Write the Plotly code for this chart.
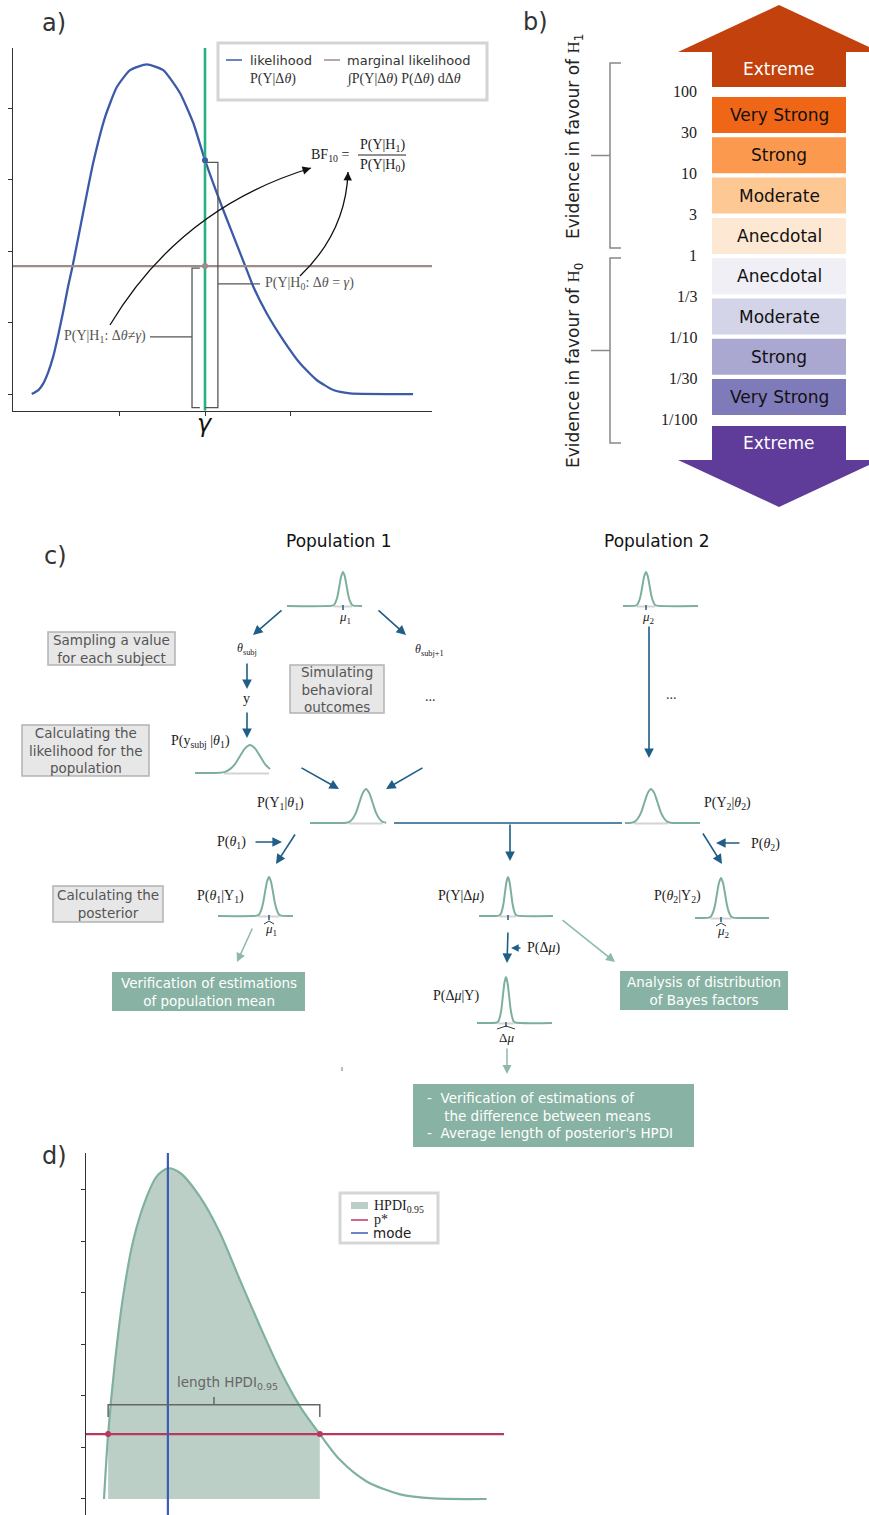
import plotly.graph_objects as go

W, H = 869, 1515
SANS = "DejaVu Sans"
SERIF = "Liberation Serif"

# ======================= DATA =======================
# ---- panel a : likelihood of the effect (x in units, gamma = 0) ----
A_X = [-2.015, -1.938, -1.880, -1.822, -1.764, -1.706, -1.648, -1.593, -1.538, -1.415,
       -1.299, -1.163, -1.027, -0.872, -0.678, -0.485, -0.291, -0.136, 0.0, 0.213,
       0.465, 0.562, 0.717, 0.910, 1.105, 1.299, 1.492, 1.686, 2.42]
A_Y = [0.0, 0.056, 0.15, 0.31, 0.53, 0.83, 1.16, 1.50, 1.80, 2.55,
       3.24, 3.87, 4.29, 4.53, 4.61, 4.53, 4.21, 3.79, 3.27, 2.57,
       1.80, 1.50, 1.13, 0.755, 0.43, 0.196, 0.056, 0.01, 0.0]
A_GAMMA = 0.0
A_LIK_AT_GAMMA = 3.27
A_MARGINAL = 1.79
A_XTICKS = [-1, 0, 1]
A_XTICKLABEL = "<i>γ</i>"
A_YTICKS = [0, 1, 2, 3, 4]

# ---- panel b : Bayes factor evidence categories ----
B_CATEGORIES = ["Extreme", "Very Strong", "Strong", "Moderate", "Anecdotal",
                "Anecdotal", "Moderate", "Strong", "Very Strong", "Extreme"]
B_COLORS = ["#c2410c", "#ef6617", "#fb9a4f", "#fdc894", "#fde8d4",
            "#efeff5", "#d4d4e8", "#aaa7d1", "#7f7ab9", "#5f3c99"]
B_TEXT_COLORS = ["white", "#111", "#111", "#111", "#111",
                 "#111", "#111", "#111", "#111", "white"]
B_THRESHOLDS = ["100", "30", "10", "3", "1", "1/3", "1/10", "1/30", "1/100"]
B_GROUPS = ["Evidence in favour of <span style='font-family:Liberation Serif'>H</span><sub>1</sub>",
            "Evidence in favour of <span style='font-family:Liberation Serif'>H</span><sub>0</sub>"]

# ---- panel c : normalised bump profile used for the small density icons ----
BUMP_U = [-3, -2.5, -2, -1.5, -1, -0.5, 0, 0.5, 1, 1.5, 2, 2.5, 3]
BUMP_H = [0.01, 0.04, 0.14, 0.32, 0.61, 0.88, 1.0, 0.88, 0.61, 0.32, 0.14, 0.04, 0.01]
C_TITLES = ["Population 1", "Population 2"]
C_GRAY_BOXES = ["Sampling a value<br>for each subject",
                "Simulating<br>behavioral<br>outcomes",
                "Calculating the<br>likelihood for the<br>population",
                "Calculating the<br>posterior"]
C_GREEN_BOXES = ["Verification of estimations<br>of population mean",
                 "Analysis of distribution<br>of Bayes factors",
                 "-  Verification of estimations of<br>    the difference between means<br>-  Average length of posterior's HPDI"]

# ---- panel d : posterior with HPDI ----
D_X = [0.35, 0.43, 0.56, 0.72, 0.92, 1.18, 1.37, 1.59, 1.83, 2.21, 2.60, 2.99,
       3.38, 3.77, 4.16, 4.54, 4.93, 5.45, 6.10, 6.74, 7.78]
D_Y = [0.00, 1.26, 2.64, 3.93, 5.03, 5.87, 6.26, 6.42, 6.33, 5.87, 5.17, 4.25,
       3.35, 2.50, 1.79, 1.26, 0.76, 0.34, 0.09, 0.01, 0.00]
D_PSTAR = 1.26
D_MODE = 1.59
D_HPDI = [0.43, 4.54]
D_YTICKS = [0, 1, 2, 3, 4, 5, 6]

# ======================= STYLE =======================
BLUE = "#3b5aa8"
GREEN_V = "#27b183"
BROWN = "#9c8c8a"
ICON = "#7db09c"
ARROW = "#1f5e86"
SOFT = "#8dbaa8"
TEAL_BOX = "#88b2a3"
RED = "#b8395e"
MODE_BLUE = "#3c5db4"
FILL = "#bccfc7"

fig = go.Figure()
shapes, ann = [], []


def txt(x, y, s, size=13, color="#222", family=SANS, xa="center", ya="middle", angle=0, ref=("x", "y"), align="center"):
    ann.append(dict(x=x, y=y, xref=ref[0], yref=ref[1], text=s, showarrow=False,
                    font=dict(size=size, color=color, family=family),
                    xanchor=xa, yanchor=ya, textangle=angle, align=align))


def seg(x0, y0, x1, y1, color, width=1.5, ref=("x", "y"), layer="above", dash=None):
    shapes.append(dict(type="line", x0=x0, y0=y0, x1=x1, y1=y1, xref=ref[0], yref=ref[1],
                       line=dict(color=color, width=width, dash=dash), layer=layer))


def path(p, color, width=1.5, fill=None, ref=("x", "y"), layer="above"):
    d = dict(type="path", path=p, xref=ref[0], yref=ref[1], layer=layer,
             line=dict(color=color, width=width))
    if fill:
        d["fillcolor"] = fill
    shapes.append(d)


def rect(x0, y0, x1, y1, fill, line=None, lw=0, layer="above", ref=("x", "y")):
    shapes.append(dict(type="rect", x0=x0, y0=y0, x1=x1, y1=y1, xref=ref[0], yref=ref[1],
                       fillcolor=fill, line=dict(color=line or fill, width=lw), layer=layer))


def arrow(x0, y0, x1, y1, color=ARROW, width=1.6, size=1.2, head=2):
    ann.append(dict(x=x1, y=y1, ax=x0, ay=y0, xref="x", yref="y", axref="x", ayref="y",
                    text="", showarrow=True, arrowhead=head, arrowsize=size,
                    arrowwidth=width, arrowcolor=color, standoff=0))


def curved_arrow(p0, c, p1, color="#111", width=1.3):
    path(f"M {p0[0]} {p0[1]} Q {c[0]} {c[1]} {p1[0]} {p1[1]}", color, width)
    dx, dy = p1[0] - c[0], p1[1] - c[1]
    n = (dx * dx + dy * dy) ** 0.5
    arrow(p1[0] - 7 * dx / n, p1[1] - 7 * dy / n, p1[0], p1[1], color=color, width=width, size=1.3)


# ======================= PANEL A =======================
fig.add_trace(go.Scatter(x=A_X, y=A_Y, mode="lines", line=dict(color=BLUE, width=2.3, shape="spline", smoothing=0.5),
                         xaxis="x2", yaxis="y2", hoverinfo="skip", showlegend=False))
A_XRANGE = [-2.233, 2.64]
A_YRANGE = [-0.233, 4.839]
fig.add_trace(go.Scatter(x=A_XRANGE, y=[A_MARGINAL, A_MARGINAL], mode="lines",
                         line=dict(color=BROWN, width=2.2), xaxis="x2", yaxis="y2",
                         hoverinfo="skip", showlegend=False))
fig.add_trace(go.Scatter(x=[A_GAMMA, A_GAMMA], y=A_YRANGE, mode="lines",
                         line=dict(color=GREEN_V, width=2.6), xaxis="x2", yaxis="y2",
                         hoverinfo="skip", showlegend=False))
fig.add_trace(go.Scatter(x=[A_GAMMA, A_GAMMA], y=[A_LIK_AT_GAMMA, A_MARGINAL], mode="markers",
                         marker=dict(color=[BLUE, BROWN], size=6), xaxis="x2", yaxis="y2",
                         hoverinfo="skip", showlegend=False))
ra = ("x2", "y2")
BR_GRAY = "#555"
path(f"M {A_GAMMA} {A_LIK_AT_GAMMA - 0.03} L 0.15 {A_LIK_AT_GAMMA - 0.03} L 0.15 -0.19 L {A_GAMMA} -0.19",
     BR_GRAY, 1.3, ref=ra)
mid_r = (A_LIK_AT_GAMMA - 0.19) / 2
seg(0.15, mid_r, 0.64, mid_r, BR_GRAY, 1.3, ref=ra)
txt(0.67, mid_r, "P(Y|H<sub>0</sub>: Δ<i>θ</i> = <i>γ</i>)", 14, "#555", SERIF, xa="left", ref=ra)
path(f"M -0.06 {A_MARGINAL - 0.03} L -0.151 {A_MARGINAL - 0.03} L -0.151 -0.19 L -0.06 -0.19",
     BR_GRAY, 1.3, ref=ra)
mid_l = (A_MARGINAL - 0.19) / 2
seg(-0.151, mid_l, -0.64, mid_l, BR_GRAY, 1.3, ref=ra)
txt(-0.66, mid_l, "P(Y|H<sub>1</sub>: Δ<i>θ</i>≠<i>γ</i>)", 14, "#555", SERIF, xa="right", ref=ra)
txt(A_GAMMA, 424, A_XTICKLABEL, 24, "#111", ref=("x2", "y"))

rect(218, 43, 487, 100, "white", "#d4d4d4", 3)
seg(226, 60, 242, 60, BLUE, 1.5)
txt(248, 60, "likelihood", 13, "#333", xa="left")
txt(248, 79, "P(Y|Δ<i>θ</i>)", 14, "#333", SERIF, xa="left")
seg(324, 60, 340, 60, BROWN, 1.5)
txt(345, 60, "marginal likelihood", 13, "#333", xa="left")
txt(345, 79, "∫P(Y|Δ<i>θ</i>) P(Δ<i>θ</i>) dΔ<i>θ</i>", 14, "#333", SERIF, xa="left")

txt(351, 155, "BF<sub>10</sub> =", 14, "#222", SERIF, xa="right")
txt(382, 145, "P(Y|H<sub>1</sub>)", 14, "#222", SERIF)
txt(382, 165, "P(Y|H<sub>0</sub>)", 14, "#222", SERIF)
seg(358, 155, 406, 155, "#222", 1)
curved_arrow((110, 325), (180, 208), (311, 168))
curved_arrow((300, 276), (346, 232), (348, 172))
txt(54, 23, "a)", 24, "#333")

# ======================= PANEL B =======================
BX0, BX1, BCX = 712, 846, 779
PITCH, BH = 40.3, 36
path(f"M {BX0} 87 L {BX0} 52 L 678 52 L {BCX} 5 L 880 52 L {BX1} 52 L {BX1} 87 Z", B_COLORS[0], 0, fill=B_COLORS[0])
txt(BCX, 69, B_CATEGORIES[0], 17, B_TEXT_COLORS[0])
for i in range(1, 9):
    y0 = 97 + (i - 1) * PITCH
    rect(BX0, y0, BX1, y0 + BH, B_COLORS[i])
    txt(BCX, y0 + BH / 2, B_CATEGORIES[i], 17, B_TEXT_COLORS[i])
path(f"M {BX0} 426 L {BX0} 460 L 678 460 L {BCX} 507 L 880 460 L {BX1} 460 L {BX1} 426 Z", B_COLORS[9], 0, fill=B_COLORS[9])
txt(BCX, 443, B_CATEGORIES[9], 17, B_TEXT_COLORS[9])
for i, t in enumerate(B_THRESHOLDS):
    txt(699, 91 + i * 41.1, t, 16, "#222", SERIF, xa="right")
for (ya, yb) in [(63, 248), (258, 443)]:
    path(f"M 621 {ya} L 610 {ya} L 610 {yb} L 621 {yb}", "#888", 1.5)
    seg(610, (ya + yb) / 2, 591, (ya + yb) / 2, "#888", 1.5)
txt(574, 137, B_GROUPS[0], 17, "#222", angle=-90)
txt(574, 366, B_GROUPS[1], 17, "#222", angle=-90)
txt(535, 22, "b)", 24, "#333")

# ======================= PANEL C =======================


def icon(cx, base, x0, x1, sig, h, cut=3.0, tick=False):
    xs, ys = [x0], [base]
    for u, v in zip(BUMP_U, BUMP_H):
        if u > cut:
            break
        xs.append(cx + u * sig)
        ys.append(base - h * v)
    if cut >= 3:
        xs.append(x1)
        ys.append(base)
        seg(cx - 2.6 * sig, base + 0.5, cx + 2.6 * sig, base + 0.5, "#d4d4d4", 2, layer="below")
    else:
        seg(cx - 2.6 * sig, base + 0.5, x1, base + 0.5, "#d4d4d4", 2, layer="below")
    fig.add_trace(go.Scatter(x=xs, y=ys, mode="lines", line=dict(color=ICON, width=2, shape="spline", smoothing=0.6),
                             xaxis="x", yaxis="y", hoverinfo="skip", showlegend=False))
    if tick:
        seg(cx, base - 1, cx, base + 4, ARROW, 1.5)


def hat(cx, y, w):
    path(f"M {cx - w} {y + 3} L {cx} {y} L {cx + w} {y + 3}", "#222", 0.9)


txt(55, 556, "c)", 24, "#333")
txt(339, 541, C_TITLES[0], 17, "#111")
txt(657, 541, C_TITLES[1], 17, "#111")

icon(343, 606, 287, 362, 3.5, 34, tick=True)
txt(345, 617, "<i>μ</i><sub>1</sub>", 13, "#222", SERIF)
icon(646, 606, 623, 698, 3.5, 34, tick=True)
txt(648, 617, "<i>μ</i><sub>2</sub>", 13, "#222", SERIF)

arrow(283, 609, 253, 635)
arrow(377, 609, 406, 635)
txt(247, 649, "<i>θ</i><sub>subj</sub>", 12, "#222", SERIF)
txt(429, 650, "<i>θ</i><sub>subj+1</sub>", 12, "#222", SERIF)
arrow(247, 662, 247, 689)
txt(246, 698, "y", 14, "#222", SERIF)
arrow(247, 711, 247, 738)
txt(430, 696, "...", 14, "#333", SERIF)
txt(200, 741, "P(y<sub>subj</sub> |<i>θ</i><sub>1</sub>)", 14, "#222", SERIF)
icon(250, 773, 195, 269, 10, 28, cut=2.0)

arrow(300, 767, 339, 789)
arrow(424, 767, 386, 789)
icon(366, 823, 310, 385, 6.5, 34)
txt(280, 803, "P(Y<sub>1</sub>|<i>θ</i><sub>1</sub>)", 14, "#222", SERIF)

arrow(649, 625, 649, 758)
txt(671, 694, "...", 14, "#333", SERIF)
icon(651, 823, 625, 700, 6.5, 34)
txt(727, 803, "P(Y<sub>2</sub>|<i>θ</i><sub>2</sub>)", 14, "#222", SERIF)

seg(394, 823, 622, 823, ARROW, 1.6)
arrow(510, 823, 510, 861)

arrow(296, 833, 276, 864)
arrow(254, 842, 282, 842)
txt(231, 842, "P(<i>θ</i><sub>1</sub>)", 14, "#222", SERIF)
icon(269, 916, 218, 293, 4, 39, tick=True)
txt(220, 896, "P(<i>θ</i><sub>1</sub>|Y<sub>1</sub>)", 14, "#222", SERIF)
txt(271, 929, "<i>μ</i><sub>1</sub>", 13, "#222", SERIF)
hat(269, 921, 5)

arrow(702, 832, 722, 864)
arrow(741, 843, 716, 843)
txt(765, 844, "P(<i>θ</i><sub>2</sub>)", 14, "#222", SERIF)
icon(721, 918, 695, 769, 4, 40, tick=True)
txt(677, 896, "P(<i>θ</i><sub>2</sub>|Y<sub>2</sub>)", 14, "#222", SERIF)
txt(723, 931, "<i>μ</i><sub>2</sub>", 13, "#222", SERIF)
hat(721, 923, 5)

icon(508, 916, 479, 553, 3, 39, tick=True)
txt(461, 896, "P(Y|Δ<i>μ</i>)", 14, "#222", SERIF)
arrow(508, 931, 507, 963)
arrow(522, 948, 511, 948, width=1.4, size=1.1)
txt(543, 948, "P(Δ<i>μ</i>)", 14, "#222", SERIF)
icon(506, 1023, 477, 552, 3, 46, tick=True)
txt(456, 996, "P(Δ<i>μ</i>|Y)", 14, "#222", SERIF)
txt(506, 1037, "Δ<i>μ</i>", 13, "#222", SERIF)
hat(506, 1026, 9)

arrow(253, 927, 237, 962, color=SOFT, width=1.5)
arrow(561, 919, 615, 962, color=SOFT, width=1.5)
arrow(507, 1047, 507, 1074, color=SOFT, width=1.5)
seg(342, 1067, 342, 1071, "#777", 1)

GB = [(48, 632, 175, 665), (290, 665, 384, 713), (22, 725, 149, 776), (53, 886, 163, 922)]
for (x0, y0, x1, y1), t in zip(GB, C_GRAY_BOXES):
    rect(x0, y0, x1, y1, "#e7e7e7", "#b3b3b3", 1.5)
    txt((x0 + x1) / 2, (y0 + y1) / 2, t, 13.5, "#555")
GRB = [(112, 972, 305, 1011), (620, 971, 788, 1010), (413, 1084, 694, 1147)]
for k, ((x0, y0, x1, y1), t) in enumerate(zip(GRB, C_GREEN_BOXES)):
    rect(x0, y0, x1, y1, TEAL_BOX)
    if k < 2:
        txt((x0 + x1) / 2, (y0 + y1) / 2, t, 13.5, "white")
    else:
        txt(x0 + 12, (y0 + y1) / 2, t, 13.5, "white", xa="left", align="left")

# ======================= PANEL D =======================
rd = ("x3", "y3")
D_XRANGE = [0, 8.117]
D_YRANGE = [-0.311, 6.718]
hx = [x for x in D_X if D_HPDI[0] <= x <= D_HPDI[1]]
hy = [y for x, y in zip(D_X, D_Y) if D_HPDI[0] <= x <= D_HPDI[1]]
fig.add_trace(go.Scatter(x=hx, y=hy, mode="lines", fill="tozeroy", fillcolor=FILL,
                         line=dict(width=0, shape="spline", smoothing=0.8), xaxis="x3", yaxis="y3",
                         hoverinfo="skip", showlegend=False))
fig.add_trace(go.Scatter(x=D_X, y=D_Y, mode="lines", line=dict(color="#80b19f", width=2.2, shape="spline", smoothing=0.8),
                         xaxis="x3", yaxis="y3", hoverinfo="skip", showlegend=False))
fig.add_trace(go.Scatter(x=D_XRANGE, y=[D_PSTAR, D_PSTAR], mode="lines", line=dict(color=RED, width=2.2),
                         xaxis="x3", yaxis="y3", hoverinfo="skip", showlegend=False))
fig.add_trace(go.Scatter(x=[D_MODE, D_MODE], y=D_YRANGE, mode="lines", line=dict(color=MODE_BLUE, width=2.2),
                         xaxis="x3", yaxis="y3", hoverinfo="skip", showlegend=False))
fig.add_trace(go.Scatter(x=D_HPDI, y=[D_PSTAR, D_PSTAR], mode="markers", marker=dict(color=RED, size=6),
                         xaxis="x3", yaxis="y3", hoverinfo="skip", showlegend=False))
bmid = (D_HPDI[0] + D_HPDI[1]) / 2
path(f"M {D_HPDI[0]} 1.59 L {D_HPDI[0]} 1.83 L {D_HPDI[1]} 1.83 L {D_HPDI[1]} 1.59", "#666", 1.5, ref=rd)
seg(bmid, 1.83, bmid, 1.98, "#666", 1.5, ref=rd)
txt(bmid + 0.27, 2.26, "length HPDI<sub>0.95</sub>", 13.5, "#666", ref=rd)

rect(340, 1193, 438, 1243, "white", "#d6d6d6", 3)
rect(351, 1202, 368, 1209, FILL)
seg(351, 1220, 368, 1220, RED, 1.5)
seg(351, 1233, 368, 1233, MODE_BLUE, 1.5)
txt(372, 1206, "HPDI<sub>0.95</sub>", 14, "#222", SERIF, xa="left")
txt(372, 1219, "p*", 14, "#222", SERIF, xa="left")
txt(371, 1233, "mode", 13.5, "#222", xa="left")
txt(54, 1156, "d)", 24, "#333")

# ======================= LAYOUT =======================
axis_common = dict(showgrid=False, zeroline=False, showline=True, linecolor="#333", linewidth=1.3,
                   ticks="outside", ticklen=4, tickcolor="#333", fixedrange=True)
fig.update_layout(
    width=W, height=H, margin=dict(l=0, r=0, t=0, b=0),
    paper_bgcolor="white", plot_bgcolor="rgba(0,0,0,0)", showlegend=False,
    xaxis=dict(domain=[0, 1], range=[0, W], visible=False, fixedrange=True),
    yaxis=dict(domain=[0, 1], range=[H, 0], visible=False, fixedrange=True),
    xaxis2=dict(domain=[13 / W, 432 / W], range=A_XRANGE, anchor="y2", tickvals=A_XTICKS,
                showticklabels=False, **axis_common),
    yaxis2=dict(domain=[1 - 410.7 / H, 1 - 48 / H], range=A_YRANGE, anchor="x2", tickvals=A_YTICKS,
                showticklabels=False, **axis_common),
    xaxis3=dict(domain=[86 / W, 504 / W], range=D_XRANGE, anchor="y3", showline=False, showticklabels=False,
                showgrid=False, zeroline=False, ticks="", fixedrange=True),
    yaxis3=dict(domain=[0, 1 - 1153 / H], range=D_YRANGE, anchor="x3", tickvals=D_YTICKS,
                showticklabels=False, **axis_common),
    shapes=shapes, annotations=ann,
)

fig.write_html("out.html", config={"displayModeBar": False, "staticPlot": True},
               post_script="document.body.style.margin='0';document.body.style.overflow='hidden';")
